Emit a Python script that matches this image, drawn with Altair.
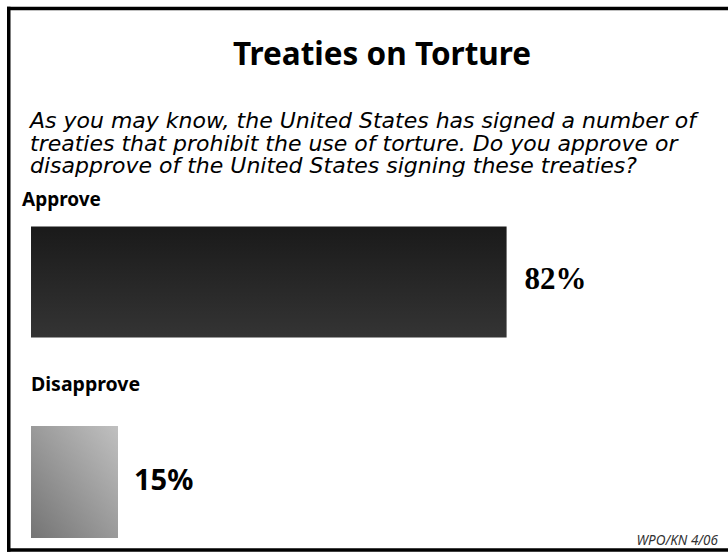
import altair as alt
import pandas as pd

# Survey results
categories = ["Approve", "Disapprove"]
values = [82, 15]
value_labels = ["82%", "15%"]

title_text = "Treaties on Torture"
question_lines = [
    "As you may know, the United States has signed a number of",
    "treaties that prohibit the use of torture.  Do you approve or",
    "disapprove of the United States signing these treaties?",
]
source_text = "WPO/KN 4/06"

df = pd.DataFrame({"category": categories, "value": values, "label": value_labels})

W, H = 728, 552
FONT = "Noto Sans"

x_enc = alt.X("value:Q", scale=alt.Scale(domain=[0, 100], range=[31, 611]), axis=None)
y_enc = alt.Y(
    "category:N",
    scale=alt.Scale(type="point", domain=categories, range=[282, 482], padding=0),
    axis=None,
)

base = alt.Chart(df)

dark_grad = alt.Gradient(
    gradient="linear",
    stops=[alt.GradientStop(color="#1a1a1a", offset=0), alt.GradientStop(color="#343434", offset=1)],
    x1=0, y1=0, x2=0, y2=1,
)
light_grad = alt.Gradient(
    gradient="linear",
    stops=[alt.GradientStop(color="#c0c0c0", offset=0), alt.GradientStop(color="#747474", offset=1)],
    x1=1, y1=0, x2=0, y2=1,
)

approve = base.transform_filter(alt.datum.category == "Approve")
disapprove = base.transform_filter(alt.datum.category == "Disapprove")

bar_approve = approve.mark_bar(size=111, color=dark_grad).encode(
    x=x_enc, x2=alt.datum(0), y=y_enc
)
bar_disapprove = disapprove.mark_bar(size=112, color=light_grad).encode(
    x=x_enc, x2=alt.datum(0), y=y_enc
)

pct_approve = approve.mark_text(
    align="left", baseline="middle", dx=18, dy=-2, font="Liberation Serif",
    fontWeight="bold", fontSize=31, color="black"
).encode(x=x_enc, y=y_enc, text="label:N")

pct_disapprove = disapprove.mark_text(
    align="left", baseline="middle", dx=16, dy=-1, font=FONT,
    fontWeight="bold", fontSize=29, color="black"
).encode(x=x_enc, y=y_enc, text="label:N")

cat_approve = approve.mark_text(
    align="left", baseline="middle", dy=-82, font=FONT, fontWeight="bold", fontSize=19, color="black"
).encode(x=alt.value(22), y=y_enc, text="category:N")

cat_disapprove = disapprove.mark_text(
    align="left", baseline="middle", dy=-97, font=FONT, fontWeight="bold", fontSize=19.5, color="black"
).encode(x=alt.value(31), y=y_enc, text="category:N")

title = alt.Chart(pd.DataFrame({"t": [title_text]})).mark_text(
    align="center", baseline="middle", font=FONT, fontWeight="bold", fontSize=31.5, color="black"
).encode(x=alt.value(382), y=alt.value(56), text="t:N")

question = alt.Chart(pd.DataFrame({"t": [question_lines]})).mark_text(
    align="left", baseline="alphabetic", font="DejaVu Sans", fontStyle="italic", fontSize=22,
    lineHeight=22.5, color="black"
).encode(x=alt.value(30), y=alt.value(128), text="t:N")

source = alt.Chart(pd.DataFrame({"t": [source_text]})).mark_text(
    align="right", baseline="alphabetic", font=FONT, fontStyle="italic", fontSize=13.5, color="#333333"
).encode(x=alt.value(718), y=alt.value(545), text="t:N")

# Open frame: top, left and bottom edges (the right edge runs off the page)
frame_style = dict(color="black", strokeWidth=3.5)
frame_one = alt.Chart(pd.DataFrame({"a": [0]}))
frame_top = frame_one.mark_rule(**frame_style).encode(
    x=alt.value(7), x2=alt.value(728), y=alt.value(8.5)
)
frame_bottom = frame_one.mark_rule(**frame_style).encode(
    x=alt.value(7), x2=alt.value(728), y=alt.value(550)
)
frame_left = frame_one.mark_rule(**frame_style).encode(
    x=alt.value(8.75), y=alt.value(6.75), y2=alt.value(551.75)
)

chart = alt.layer(
    frame_top, frame_bottom, frame_left, bar_approve, bar_disapprove, pct_approve, pct_disapprove,
    cat_approve, cat_disapprove, title, question, source,
).properties(
    width=W, height=H, autosize=alt.AutoSizeParams(type="none"), padding=0,
    background="white",
).configure_view(stroke=None)

chart.save("out.html", embed_options={"renderer": "svg", "actions": False})
